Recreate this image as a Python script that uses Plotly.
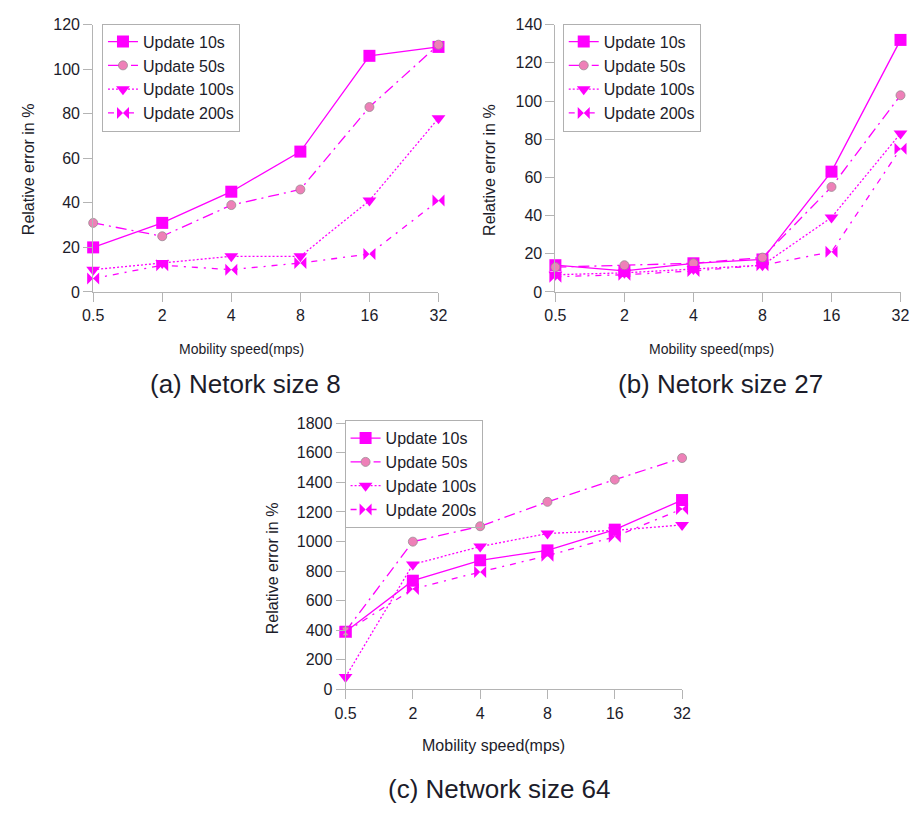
import plotly.graph_objects as go

# Mobility speeds (m/s) used as categorical x positions
speeds = ["0.5", "2", "4", "8", "16", "32"]

series_names = ["Update 10s", "Update 50s", "Update 100s", "Update 200s"]

# (a) network size 8 -- relative error in %
err_n8_u10 = [20, 31, 45, 63, 106, 110]
err_n8_u50 = [31, 25, 39, 46, 83, 111]
err_n8_u100 = [10, 13, 16, 16, 41, 78]
err_n8_u200 = [6, 12, 10, 13, 17, 41]

# (b) network size 27
err_n27_u10 = [14, 11, 15, 17, 63, 132]
err_n27_u50 = [13, 14, 15, 18, 55, 103]
err_n27_u100 = [9, 10, 12, 14, 39, 83]
err_n27_u200 = [8, 9, 11, 14, 21, 75]

# (c) network size 64
err_n64_u10 = [390, 735, 873, 940, 1080, 1280]
err_n64_u50 = [393, 999, 1103, 1268, 1418, 1564]
err_n64_u100 = [84, 845, 966, 1054, 1075, 1112]
err_n64_u200 = [388, 679, 794, 904, 1032, 1220]

W, H = 919, 813
MAGENTA = "#ff00ff"
PINK = "#ee80b8"
AXIS_GREY = "#b4b4b4"
TEXT = "#1c1c2a"
FONT = "Liberation Sans, Arial, sans-serif"

styles = [
    dict(line=dict(color=MAGENTA, width=1.3, dash="solid"),
         marker=dict(symbol="square", size=12, color=MAGENTA)),
    dict(line=dict(color=MAGENTA, width=1.3, dash="11px,5px,2px,5px"),
         marker=dict(symbol="circle", size=9, color=PINK,
                     line=dict(color="#9a8a92", width=0.8))),
    dict(line=dict(color=MAGENTA, width=1.3, dash="2px,2px"),
         marker=dict(symbol="triangle-down", size=12, color=MAGENTA)),
    dict(line=dict(color=MAGENTA, width=1.3, dash="6px,6px,2px,6px"),
         marker=dict(symbol="bowtie", size=12, color=MAGENTA)),
]

panels = [
    dict(data=[err_n8_u10, err_n8_u50, err_n8_u100, err_n8_u200],
         xd=(84, 437), yd=(17, 290), yr=[0, 120], dy=20,
         legend=(93, 16)),
    dict(data=[err_n27_u10, err_n27_u50, err_n27_u100, err_n27_u200],
         xd=(556.5, 909.3), yd=(17, 290), yr=[0, 140], dy=20,
         legend=(564, 16)),
    dict(data=[err_n64_u10, err_n64_u50, err_n64_u100, err_n64_u200],
         xd=(342, 686), yd=(424, 696), yr=[0, 1800], dy=200,
         legend=(341, 421)),
]

fig = go.Figure()
layout = dict(
    width=W, height=H,
    margin=dict(l=0, r=0, t=0, b=0),
    paper_bgcolor="white", plot_bgcolor="white",
    font=dict(family=FONT, color=TEXT),
    annotations=[],
)

for i, p in enumerate(panels):
    sfx = "" if i == 0 else str(i + 1)
    for name, vals, st in zip(series_names, p["data"], styles):
        fig.add_trace(go.Scatter(
            x=speeds, y=vals, name=name, mode="lines+markers",
            line=st["line"], marker=st["marker"], cliponaxis=False,
            xaxis="x" + sfx, yaxis="y" + sfx, legend="legend" + sfx,
        ))
    axis_common = dict(showline=True, linecolor=AXIS_GREY, linewidth=1,
                       ticks="outside", ticklen=9, tickcolor=AXIS_GREY,
                       showgrid=False, zeroline=False,
                       tickfont=dict(family=FONT, size=16, color=TEXT))
    layout["xaxis" + sfx] = dict(
        axis_common, type="category", range=[0, 5],
        domain=[p["xd"][0] / W, p["xd"][1] / W],
        anchor="y" + sfx,
    )
    layout["yaxis" + sfx] = dict(
        axis_common, range=p["yr"], dtick=p["dy"],
        domain=[1 - p["yd"][1] / H, 1 - p["yd"][0] / H],
        anchor="x" + sfx,
    )
    layout["legend" + sfx] = dict(
        x=p["legend"][0] / W, y=1 - p["legend"][1] / H,
        xanchor="left", yanchor="top",
        bgcolor="rgba(255,255,255,0)", bordercolor="#b0b0b0", borderwidth=1,
        font=dict(family=FONT, size=16, color=TEXT),
        itemwidth=30, tracegroupgap=0,
    )

def label(text, x, y, size, angle=0):
    layout["annotations"].append(dict(
        text=text, x=x / W, y=1 - y / H, xref="paper", yref="paper",
        showarrow=False, textangle=angle, xanchor="center", yanchor="middle",
        font=dict(family=FONT, size=size, color=TEXT),
    ))

# axis titles
label("Relative error in %", 18, 165, 16, -90)
label("Relative error in %", 489, 165, 16, -90)
label("Relative error in %", 267, 572, 16, -90)
label("Mobility speed(mps)", 236, 348, 14)
label("Mobility speed(mps)", 716, 348, 14)
label("Mobility speed(mps)", 493, 753, 16)

# panel captions
label("(a) Netork size 8", 240, 384, 26)
label("(b) Netork size 27", 725, 384, 26)
label("(c) Network size 64", 499, 798, 26)

fig.update_layout(**layout)
fig.write_html("out.html")
